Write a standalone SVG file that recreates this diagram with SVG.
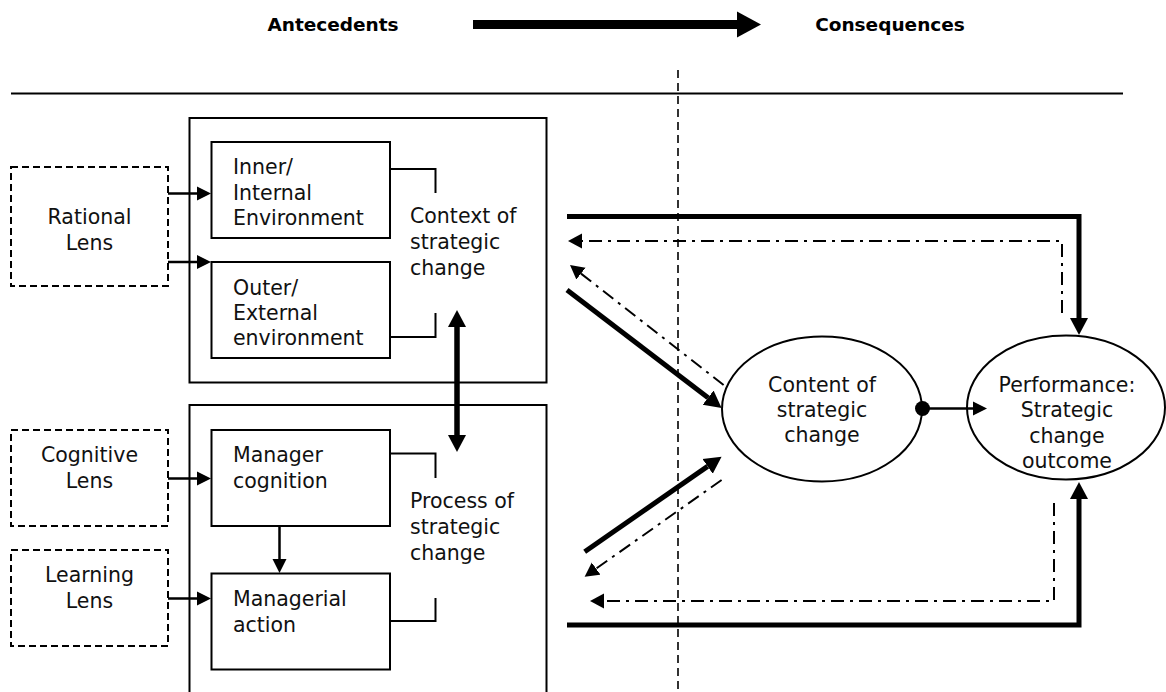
<svg xmlns="http://www.w3.org/2000/svg" width="1166" height="692" viewBox="0 0 1166 692">
  <style>
    .lbl { font-family: "DejaVu Sans", "Liberation Sans", sans-serif; font-size: 20.5px; fill: #111; }
    .mid { text-anchor: middle; }
    .head { font-family: "DejaVu Sans", "Liberation Sans", sans-serif; font-size: 18.5px; font-weight: bold; fill: #000; text-anchor: middle; }
    .box { fill: #fff; stroke: #000; stroke-width: 2; }
    .lens { fill: #fff; stroke: #000; stroke-width: 2; stroke-dasharray: 7 4; }
    .bracket { fill: none; stroke: #000; stroke-width: 2; }
    .thin { fill: none; stroke: #000; stroke-width: 2.5; }
    .thick { fill: none; stroke: #000; stroke-width: 5; }
    .dashdot { fill: none; stroke: #000; stroke-width: 2; stroke-dasharray: 13 6 3 6; }
    .oval { fill: #fff; stroke: #000; stroke-width: 2; }
  </style>
  <defs>
    <marker id="hThin" markerUnits="userSpaceOnUse" markerWidth="16" markerHeight="16" refX="0" refY="8" orient="auto" viewBox="0 0 16 16">
      <path d="M0,1 L14,8 L0,15 Z" fill="#000"/>
    </marker>
    <marker id="hThick" markerUnits="userSpaceOnUse" markerWidth="18" markerHeight="20" refX="0" refY="10" orient="auto-start-reverse" viewBox="0 0 18 20">
      <path d="M0,1 L17,10 L0,19 Z" fill="#000"/>
    </marker>
    <marker id="hDash" markerUnits="userSpaceOnUse" markerWidth="16" markerHeight="16" refX="0" refY="8" orient="auto" viewBox="0 0 16 16">
      <path d="M0,0.5 L14,8 L0,15.5 Z" fill="#000"/>
    </marker>
  </defs>

  <rect width="1166" height="692" fill="#fff"/>

  <!-- header: time direction -->
  <g id="header">
    <text class="head" x="333" y="31">Antecedents</text>
    <line x1="473" y1="24.5" x2="738" y2="24.5" stroke="#000" stroke-width="9"/>
    <path d="M737,11.5 L761,24.5 L737,37.5 Z" fill="#000"/>
    <text class="head" x="890" y="31">Consequences</text>
    <line x1="11" y1="93.5" x2="1123" y2="93.5" stroke="#000" stroke-width="2"/>
    <line x1="678" y1="70" x2="678" y2="692" stroke="#000" stroke-width="1.6" stroke-dasharray="8 5"/>
  </g>

  <!-- context of strategic change -->
  <g id="context">
    <rect class="box" x="189.5" y="118" width="357" height="264.5"/>
    <text class="lbl" x="410" y="223">Context of</text>
    <text class="lbl" x="410" y="249">strategic</text>
    <text class="lbl" x="410" y="275">change</text>
  </g>
  <g id="inner-env">
    <rect class="box" x="211.5" y="142" width="178.5" height="96"/>
    <text class="lbl" x="233" y="174">Inner/</text>
    <text class="lbl" x="233" y="200">Internal</text>
    <text class="lbl" x="233" y="225">Environment</text>
  </g>
  <g id="outer-env">
    <rect class="box" x="211.5" y="262" width="178.5" height="96"/>
    <text class="lbl" x="233" y="295">Outer/</text>
    <text class="lbl" x="233" y="320">External</text>
    <text class="lbl" x="233" y="345">environment</text>
  </g>

  <!-- process of strategic change -->
  <g id="process">
    <rect class="box" x="189.5" y="405" width="357" height="300"/>
    <text class="lbl" x="410" y="508">Process of</text>
    <text class="lbl" x="410" y="534">strategic</text>
    <text class="lbl" x="410" y="560">change</text>
  </g>
  <g id="manager-cognition">
    <rect class="box" x="211.5" y="430" width="178.5" height="96"/>
    <text class="lbl" x="233" y="462">Manager</text>
    <text class="lbl" x="233" y="488">cognition</text>
  </g>
  <g id="managerial-action">
    <rect class="box" x="211.5" y="573.5" width="178.5" height="96"/>
    <text class="lbl" x="233" y="606">Managerial</text>
    <text class="lbl" x="233" y="632">action</text>
  </g>

  <!-- lenses -->
  <g id="rational-lens">
    <rect class="lens" x="11" y="167" width="157" height="119"/>
    <text class="lbl mid" x="89.5" y="224">Rational</text>
    <text class="lbl mid" x="89.5" y="250">Lens</text>
  </g>
  <g id="cognitive-lens">
    <rect class="lens" x="11" y="430" width="157" height="96"/>
    <text class="lbl mid" x="89.5" y="462">Cognitive</text>
    <text class="lbl mid" x="89.5" y="488">Lens</text>
  </g>
  <g id="learning-lens">
    <rect class="lens" x="11" y="550" width="157" height="96"/>
    <text class="lbl mid" x="89.5" y="582">Learning</text>
    <text class="lbl mid" x="89.5" y="608">Lens</text>
  </g>

  <!-- consequences -->
  <g id="content">
    <ellipse class="oval" cx="822" cy="409" rx="100" ry="72.5"/>
    <text class="lbl mid" x="822" y="392">Content of</text>
    <text class="lbl mid" x="822" y="417">strategic</text>
    <text class="lbl mid" x="822" y="442">change</text>
  </g>
  <g id="performance">
    <ellipse class="oval" cx="1066" cy="407.5" rx="99" ry="72"/>
    <text class="lbl mid" x="1067" y="392">Performance:</text>
    <text class="lbl mid" x="1067" y="417">Strategic</text>
    <text class="lbl mid" x="1067" y="443">change</text>
    <text class="lbl mid" x="1067" y="468">outcome</text>
  </g>

  <g id="connectors">
    <!-- brackets tying sub-boxes to their labels -->
    <path class="bracket" d="M390,169 H435.5 V193"/>
    <path class="bracket" d="M390,337 H435.5 V313"/>
    <path class="bracket" d="M390,453.5 H435.5 V478"/>
    <path class="bracket" d="M390,621 H435.5 V598"/>

    <!-- lens inputs -->
    <line class="thin" x1="168" y1="193.5" x2="197" y2="193.5" marker-end="url(#hThin)"/>
    <line class="thin" x1="168" y1="262" x2="197" y2="262" marker-end="url(#hThin)"/>
    <line class="thin" x1="168" y1="478.5" x2="197" y2="478.5" marker-end="url(#hThin)"/>
    <line class="thin" x1="168" y1="598.5" x2="197" y2="598.5" marker-end="url(#hThin)"/>

    <!-- cognition to action -->
    <line class="thin" x1="279.5" y1="526" x2="279.5" y2="559" marker-end="url(#hThin)"/>

    <!-- context <-> process -->
    <line x1="457" y1="327" x2="457" y2="435" stroke="#000" stroke-width="5.5" marker-start="url(#hThick)" marker-end="url(#hThick)"/>

    <!-- content to performance -->
    <circle cx="922.5" cy="408.5" r="7.5" fill="#000"/>
    <line class="thin" x1="922" y1="408.5" x2="973" y2="408.5" marker-end="url(#hThin)"/>

    <!-- upper loop -->
    <path class="thick" d="M567,216.5 H1079 V318" marker-end="url(#hThick)"/>
    <path class="dashdot" d="M1062,313 V241 H582" marker-end="url(#hDash)"/>
    <line class="thick" x1="567" y1="290" x2="708.1" y2="397.7" marker-end="url(#hThick)"/>
    <line class="dashdot" x1="723.6" y1="385" x2="581" y2="273.6" marker-end="url(#hDash)"/>

    <!-- lower loop -->
    <line class="thick" x1="584.7" y1="551.7" x2="707.6" y2="466.4" marker-end="url(#hThick)"/>
    <line class="dashdot" x1="721.6" y1="480" x2="596.1" y2="568.6" marker-end="url(#hDash)"/>
    <path class="dashdot" d="M1054,503 V601 H604" marker-end="url(#hDash)"/>
    <path class="thick" d="M567,625 H1079 V499" marker-end="url(#hThick)"/>
  </g>
</svg>
